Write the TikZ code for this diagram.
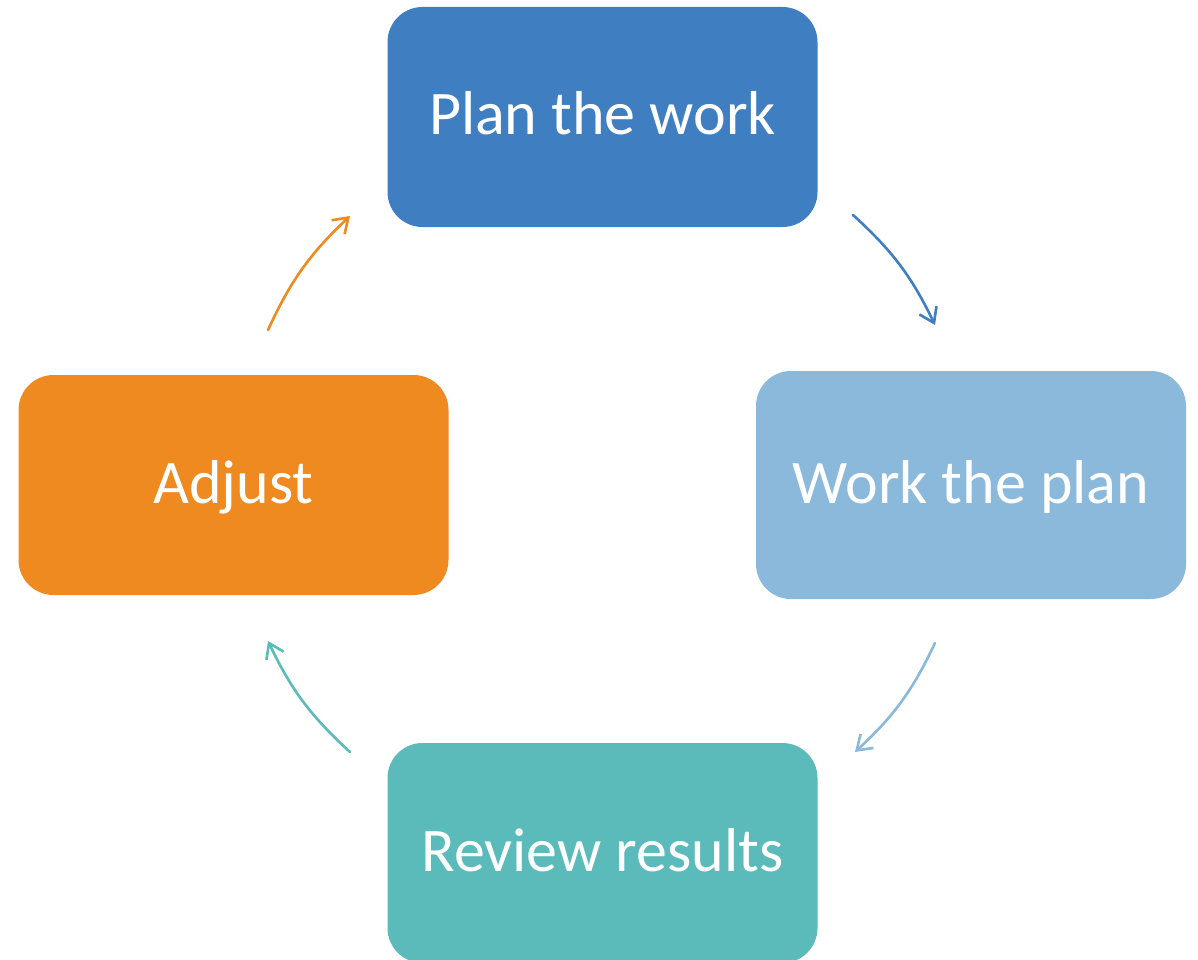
\documentclass[tikz,border=0pt]{standalone}
\usepackage{fontspec}
\setmainfont{Carlito}
\usetikzlibrary{arrows.meta}
\definecolor{planblue}{HTML}{3E7EC1}
\definecolor{workblue}{HTML}{8AB9DB}
\definecolor{reviewteal}{HTML}{5ABBBA}
\definecolor{adjustorange}{HTML}{EE8A1F}
\tikzset{
  stagebox/.style={fill=#1, draw=none, rounded corners=35pt,
    minimum width=430pt, minimum height=220pt, inner sep=0pt,
    text=white, font=\fontsize{62}{68}\selectfont,
    text height=46pt, text depth=10pt, align=center},
  cyclearrow/.style={draw=#1, line width=2.6pt, line cap=round,
    -{Straight Barb[length=14pt,width=19pt,line width=2.6pt]}}
}
\begin{document}
\begin{tikzpicture}[x=1pt,y=-1pt]
  \useasboundingbox (0,0) rectangle (1198,960);
  % the four stages of the cycle
  \node[stagebox=planblue]     (plan)   at (602.5,117) {Plan the work};
  \node[stagebox=workblue, minimum height=228pt] (work) at (971,485) {Work the plan};
  \node[stagebox=reviewteal]   (review) at (602.5,853) {Review results};
  \node[stagebox=adjustorange] (adjust) at (233.5,485) {Adjust};
  % arc end points between neighbouring stages
  \coordinate (pw1) at (853,215);
  \coordinate (pw2) at (935,325);
  \coordinate (wr1) at (935,643);
  \coordinate (wr2) at (855,752);
  \coordinate (ra1) at (350,752);
  \coordinate (ra2) at (268,641);
  \coordinate (ap1) at (268,330);
  \coordinate (ap2) at (350,216);
  % curved arrows running clockwise
  \draw[cyclearrow=planblue]     (pw1) to[bend left=11] (pw2);
  \draw[cyclearrow=workblue]     (wr1) to[bend left=11] (wr2);
  \draw[cyclearrow=reviewteal]   (ra1) to[bend left=11] (ra2);
  \draw[cyclearrow=adjustorange] (ap1) to[bend left=11] (ap2);
\end{tikzpicture}
\end{document}
